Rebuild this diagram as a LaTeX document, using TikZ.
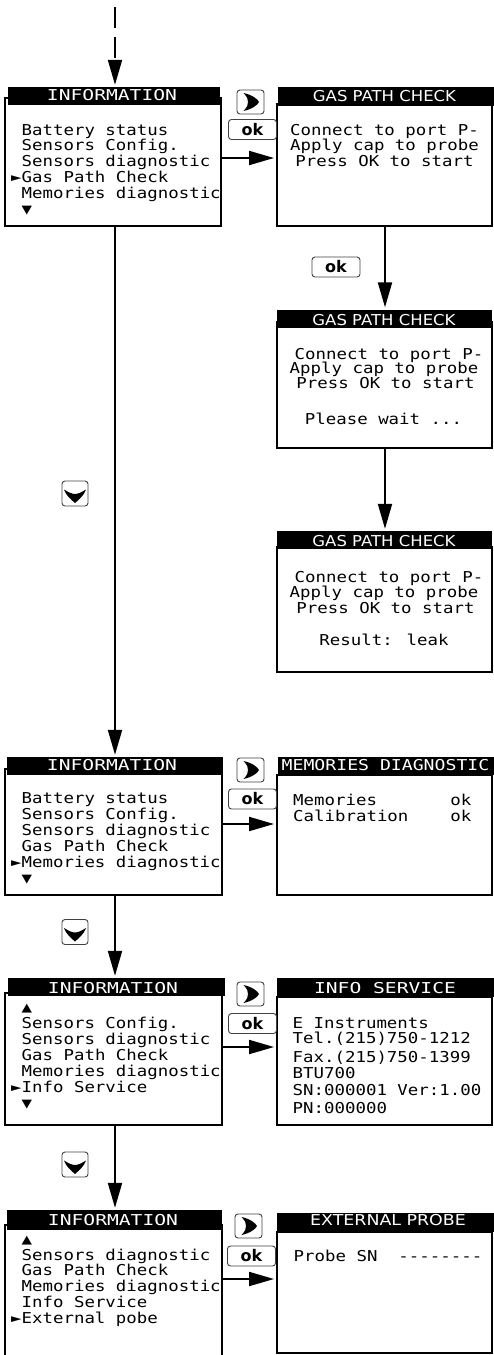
\documentclass[tikz,border=0pt]{standalone}
\usepackage{fontspec}
\setmainfont{DejaVu Sans}
\newfontfamily\lcdf[FakeStretch=1.16]{DejaVu Sans Mono}
\newfontfamily\lcdw[FakeStretch=1.31]{DejaVu Sans Mono}
\newfontfamily\lcdm[FakeStretch=1.21]{DejaVu Sans Mono}
\newfontfamily\hdrg[FakeStretch=1.10]{DejaVu Sans}
\newfontfamily\hdre[FakeStretch=1.16]{DejaVu Sans}
\usetikzlibrary{arrows.meta}
\tikzset{
  scr/.style={draw, line width=2pt, inner sep=0pt},
  hdr/.style={fill=black, inner sep=0pt},
  htxt/.style={text=white, inner sep=0pt, anchor=base},
  txt/.style={inner sep=0pt, anchor=base west, font=\lcdf\fontsize{15}{16}\selectfont},
  ctxt/.style={txt, anchor=base},
  conn/.style={line width=2pt, -{Triangle[length=25pt,width=14pt]}, shorten >=2pt},
  btn/.style={draw=black!75, line width=0.9pt, rounded corners=3pt, inner sep=0pt},
  okbtn/.style={btn, minimum width=48pt, minimum height=20pt, font=\bfseries\fontsize{16}{16}\selectfont},
  rbtn/.style={btn, minimum width=27pt, minimum height=24pt},
  dbtn/.style={btn, minimum width=26pt, minimum height=25pt},
}
\newcommand\rglyph[1]{\begin{scope}[shift={(#1.center)}]
  \fill (-7,-9) .. controls (2,-7) and (7,-3) .. (8.5,0) .. controls (7,3) and (2,7) .. (-7,9)
    .. controls (-3,5) and (-2.5,2.5) .. (-2.5,0) .. controls (-2.5,-2.5) and (-3,-5) .. cycle;
\end{scope}}
\newcommand\dglyph[1]{\begin{scope}[shift={(#1.center)}]
  \fill (-11,-4) .. controls (-6,-1) and (-3,0.5) .. (0,0.5) .. controls (3,0.5) and (6,-1) .. (11,-4)
    .. controls (9,2) and (4,6) .. (0,9.5) .. controls (-4,6) and (-9,2) .. cycle;
\end{scope}}
\begin{document}
\begin{tikzpicture}[x=1pt,y=-1pt]
\useasboundingbox (0,0) rectangle (494,1355);
% ---------- screens (outlines) ----------
\node[scr, minimum width=216pt, minimum height=128pt] (b1) at (113,162) {};
\node[scr, minimum width=215pt, minimum height=122pt] (b2) at (384.5,165) {};
\node[scr, minimum width=215pt, minimum height=126pt] (b3) at (384.5,385) {};
\node[scr, minimum width=215pt, minimum height=125pt] (b4) at (384.5,609.5) {};
\node[scr, minimum width=217pt, minimum height=126pt] (b5) at (113.5,832) {};
\node[scr, minimum width=215pt, minimum height=120pt] (b6) at (384.5,835) {};
\node[scr, minimum width=217pt, minimum height=132pt] (b7) at (113.5,1059) {};
\node[scr, minimum width=215pt, minimum height=128pt] (b8) at (384.5,1061) {};
\node[scr, minimum width=217pt, minimum height=155pt] (b9) at (113.5,1302.5) {};
\node[scr, minimum width=215pt, minimum height=121pt] (b10) at (384.5,1292.5) {};
% ---------- header bars ----------
\node[hdr, minimum width=212pt, minimum height=18pt] (h1) at (114,96) {};
\node[hdr, minimum width=216pt, minimum height=19pt] (h2) at (386,96.5) {};
\node[hdr, minimum width=215pt, minimum height=18pt] (h3) at (384.5,318.5) {};
\node[hdr, minimum width=215pt, minimum height=18pt] (h4) at (384.5,540) {};
\node[hdr, minimum width=216pt, minimum height=18pt] (h5) at (115,766) {};
\node[hdr, minimum width=216pt, minimum height=18pt] (h6) at (386,766) {};
\node[hdr, minimum width=217pt, minimum height=18pt] (h7) at (116.5,987) {};
\node[hdr, minimum width=217pt, minimum height=19pt] (h8) at (385.5,987.5) {};
\node[hdr, minimum width=215pt, minimum height=20pt] (h9) at (114.5,1220) {};
\node[hdr, minimum width=217pt, minimum height=19pt] (h10) at (385.5,1222.5) {};
% ---------- header texts ----------
\node[htxt, font=\lcdw\fontsize{15}{15}\selectfont] (t1) at (112,100) {INFORMATION};
\node[htxt, font=\hdrg\fontsize{15}{15}\selectfont] (t2) at (384.5,101) {GAS PATH CHECK};
\node[htxt, font=\hdrg\fontsize{15}{15}\selectfont] (t3) at (384,325) {GAS PATH CHECK};
\node[htxt, font=\hdrg\fontsize{15}{15}\selectfont] (t4) at (384,546) {GAS PATH CHECK};
\node[htxt, font=\lcdw\fontsize{15}{15}\selectfont] (t5) at (112,770) {INFORMATION};
\node[htxt, anchor=base west, font=\lcdm\fontsize{15}{15}\selectfont] (t6) at (281.5,770) {MEMORIES DIAGNOSTIC};
\node[htxt, font=\lcdw\fontsize{15}{15}\selectfont] (t7) at (113,993) {INFORMATION};
\node[htxt, font=\lcdw\fontsize{15}{15}\selectfont] (t8) at (385,993) {INFO SERVICE};
\node[htxt, font=\lcdw\fontsize{15}{15}\selectfont] (t9) at (113,1225) {INFORMATION};
\node[htxt, font=\hdre\fontsize{15}{15}\selectfont] (t10) at (388,1225) {EXTERNAL PROBE};
% ---------- screen 1 ----------
\node[txt] (l1a) at (21.5,135) {Battery status};
\node[txt] (l1b) at (21.5,150.8) {Sensors Config.};
\node[txt] (l1c) at (21.5,166.6) {Sensors diagnostic};
\node[txt] (l1d) at (11,182.4) {►Gas Path Check};
\node[txt] (l1e) at (21.5,198.2) {Memories diagnostic};
\node[txt] (l1f) at (21.5,214) {▼};
% ---------- screen 2 ----------
\node[ctxt] (l2a) at (384.5,135) {Connect to port P-};
\node[ctxt] (l2b) at (384.5,150.5) {Apply cap to probe};
\node[ctxt] (l2c) at (384.5,166) {Press OK to start};
% ---------- screen 3 ----------
\node[ctxt] (l3a) at (389,359) {Connect to port P-};
\node[ctxt] (l3b) at (384,373.5) {Apply cap to probe};
\node[ctxt] (l3c) at (385.5,388) {Press OK to start};
\node[ctxt] (l3d) at (383.5,424) {Please wait ...};
% ---------- screen 4 ----------
\node[ctxt] (l4a) at (389,582) {Connect to port P-};
\node[ctxt] (l4b) at (384,597) {Apply cap to probe};
\node[ctxt] (l4c) at (385.5,613) {Press OK to start};
\node[ctxt] (l4d) at (384,645) {Result: leak};
% ---------- screen 5 ----------
\node[txt] (l5a) at (21.5,803) {Battery status};
\node[txt] (l5b) at (21.5,819) {Sensors Config.};
\node[txt] (l5c) at (21.5,835) {Sensors diagnostic};
\node[txt] (l5d) at (21.5,851.5) {Gas Path Check};
\node[txt] (l5e) at (11,867.5) {►Memories diagnostic};
\node[txt] (l5f) at (21.5,883.5) {▼};
% ---------- screen 6 ----------
\node[txt] (l6a) at (293,805) {Memories\ \ \ \ \ \ \ ok};
\node[txt] (l6b) at (293,821) {Calibration\ \ \ \ ok};
% ---------- screen 7 ----------
\node[txt] (l7a) at (21.5,1012) {▲};
\node[txt] (l7b) at (21.5,1028) {Sensors Config.};
\node[txt] (l7c) at (21.5,1044) {Sensors diagnostic};
\node[txt] (l7d) at (21.5,1060) {Gas Path Check};
\node[txt] (l7e) at (21.5,1076) {Memories diagnostic};
\node[txt] (l7f) at (11,1092) {►Info Service};
\node[txt] (l7g) at (21.5,1108) {▼};
% ---------- screen 8 ----------
\node[txt] (l8a) at (292.5,1028) {E Instruments};
\node[txt] (l8b) at (292.5,1043) {Tel.(215)750-1212};
\node[txt] (l8c) at (292.5,1062) {Fax.(215)750-1399};
\node[txt] (l8d) at (292.5,1078) {BTU700};
\node[txt] (l8e) at (292.5,1095) {SN:000001 Ver:1.00};
\node[txt] (l8f) at (292.5,1113) {PN:000000};
% ---------- screen 9 ----------
\node[txt] (l9a) at (21.5,1244) {▲};
\node[txt] (l9b) at (21.5,1260) {Sensors diagnostic};
\node[txt] (l9c) at (21.5,1275.5) {Gas Path Check};
\node[txt] (l9d) at (21.5,1291) {Memories diagnostic};
\node[txt] (l9e) at (21.5,1307) {Info Service};
\node[txt] (l9f) at (11,1323) {►External pobe};
% ---------- screen 10 ----------
\node[txt] (l10a) at (293.5,1261) {Probe SN\ \ --------};
% ---------- buttons ----------
\node[rbtn] (rb1) at (250.5,102) {};
\node[rbtn] (rb2) at (250.5,770) {};
\node[rbtn] (rb3) at (250.5,994) {};
\node[rbtn] (rb4) at (248.5,1226) {};
\rglyph{rb1}\rglyph{rb2}\rglyph{rb3}\rglyph{rb4}
\node[okbtn] (ok1) at (252.5,129.5) {ok};
\node[okbtn] (ok2) at (252.5,799) {ok};
\node[okbtn] (ok3) at (252.5,1023.5) {ok};
\node[okbtn] (ok4) at (251.5,1256) {ok};
\node[okbtn] (ok5) at (336,267) {ok};
\node[dbtn] (db1) at (75,493.5) {};
\node[dbtn] (db2) at (75,932) {};
\node[dbtn] (db3) at (75,1164.5) {};
\dglyph{db1}\dglyph{db2}\dglyph{db3}
% ---------- connectors ----------
\coordinate (start) at (115,7);
\coordinate (xl) at (115,0);
\coordinate (xr) at (385,0);
\coordinate (y1) at (0,158);
\coordinate (y5) at (0,824);
\coordinate (y7) at (0,1047);
\coordinate (y9) at (0,1279);
\draw[conn, dash pattern=on 21pt off 9pt] (start) -- (xl |- h1.north);
\draw[conn] (b1.east |- y1) -- (b2.west |- y1);
\draw[conn] (xr |- b2.south) -- (xr |- h3.north);
\draw[conn] (xr |- b3.south) -- (xr |- h4.north);
\draw[conn] (xl |- b1.south) -- (xl |- h5.north);
\draw[conn] (b5.east |- y5) -- (b6.west |- y5);
\draw[conn] (xl |- b5.south) -- (xl |- h7.north);
\draw[conn] (b7.east |- y7) -- (b8.west |- y7);
\draw[conn] (xl |- b7.south) -- (xl |- h9.north);
\draw[conn] (b9.east |- y9) -- (b10.west |- y9);
\end{tikzpicture}
\end{document}
